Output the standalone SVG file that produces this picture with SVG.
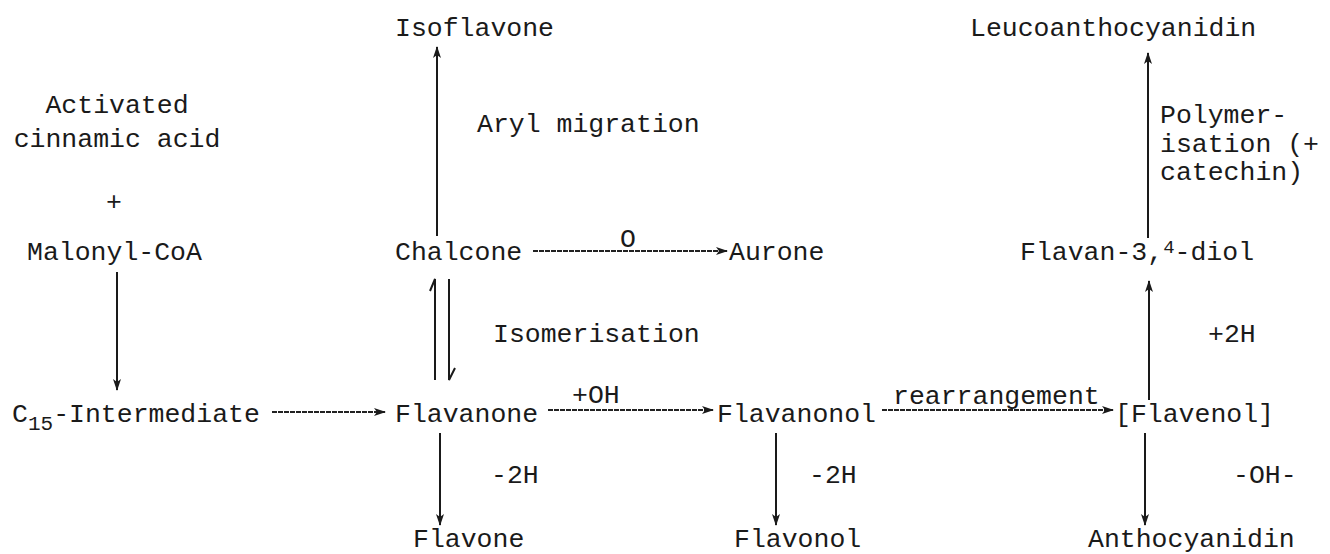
<svg xmlns="http://www.w3.org/2000/svg" width="1330" height="554" viewBox="0 0 1330 554">
<style>
text{font-family:"Liberation Mono","DejaVu Sans Mono",monospace;font-size:26.5px;fill:#1a1a1a}
.c{text-anchor:middle}
.ln{stroke:#1a1a1a;stroke-width:2;fill:none}
.h{stroke:#222;stroke-width:1.8;fill:none;stroke-dasharray:5 1}
</style>
<defs>
<marker id="ah" viewBox="0 0 12 10" refX="11" refY="5" markerWidth="12" markerHeight="10" markerUnits="userSpaceOnUse" orient="auto">
<path d="M0,1 L12,5 L0,9 L3,5 Z" fill="#1a1a1a"/>
</marker>
</defs>
<rect width="1330" height="554" fill="#fff"/>
<g id="isoflavone"><text x="395" y="36">Isoflavone</text></g>
<g id="leucoanthocyanidin"><text x="970" y="36">Leucoanthocyanidin</text></g>
<g id="cinnamic"><text class="c" x="117" y="113">Activated</text><text class="c" x="117" y="147">cinnamic acid</text></g>
<g id="plus"><text class="c" x="114" y="210">+</text></g>
<g id="malonyl"><text x="27" y="260">Malonyl-CoA</text></g>
<g id="chalcone"><text x="395" y="260">Chalcone</text></g>
<g id="aurone"><text x="729" y="260">Aurone</text></g>
<g id="flavandiol"><text x="1020" y="260">Flavan-3,<tspan font-size="19" dy="-7">4</tspan><tspan dy="7">-diol</tspan></text></g>
<g id="c15"><text x="12" y="422">C<tspan font-size="21" dy="8">15</tspan><tspan dy="-8">-Intermediate</tspan></text></g>
<g id="flavanone"><text x="395" y="422">Flavanone</text></g>
<g id="flavanonol"><text x="717" y="422">Flavanonol</text></g>
<g id="flavenol"><text x="1115" y="422">[Flavenol]</text></g>
<g id="flavone"><text x="413" y="547">Flavone</text></g>
<g id="flavonol"><text x="734" y="547">Flavonol</text></g>
<g id="anthocyanidin"><text x="1088" y="547">Anthocyanidin</text></g>
<g id="labels">
<text x="477" y="132">Aryl migration</text>
<text x="493" y="342">Isomerisation</text>
<text class="c" x="628" y="247">O</text>
<text x="572" y="403">+OH</text>
<text x="893" y="404">rearrangement</text>
<text x="1208" y="342">+2H</text>
<text x="1160" y="123">Polymer-</text>
<text x="1160" y="152">isation (+</text>
<text x="1160" y="180">catechin)</text>
<text x="491" y="483">-2H</text>
<text x="809" y="483">-2H</text>
<text x="1233" y="483">-OH-</text>
</g>
<g id="connectors">
<line class="ln" x1="117" y1="272" x2="117" y2="390" marker-end="url(#ah)"/>
<line class="h" x1="272" y1="412" x2="385" y2="412" marker-end="url(#ah)"/>
<line class="h" x1="548" y1="410" x2="713" y2="410" marker-end="url(#ah)"/>
<line class="h" x1="882" y1="410" x2="1113" y2="410" marker-end="url(#ah)"/>
<line class="h" x1="533" y1="251" x2="727" y2="251" marker-end="url(#ah)"/>
<line class="ln" x1="437" y1="236" x2="437" y2="47" marker-end="url(#ah)"/>
<path class="ln" d="M435,380 L435,279 L430,291"/>
<path class="ln" d="M449,279 L449,380 L455,368"/>
<line class="ln" x1="1148" y1="238" x2="1148" y2="53" marker-end="url(#ah)"/>
<line class="ln" x1="1149" y1="400" x2="1149" y2="281" marker-end="url(#ah)"/>
<line class="ln" x1="440" y1="433" x2="440" y2="525" marker-end="url(#ah)"/>
<line class="ln" x1="776" y1="433" x2="776" y2="525" marker-end="url(#ah)"/>
<line class="ln" x1="1145" y1="433" x2="1145" y2="525" marker-end="url(#ah)"/>
</g>
</svg>
